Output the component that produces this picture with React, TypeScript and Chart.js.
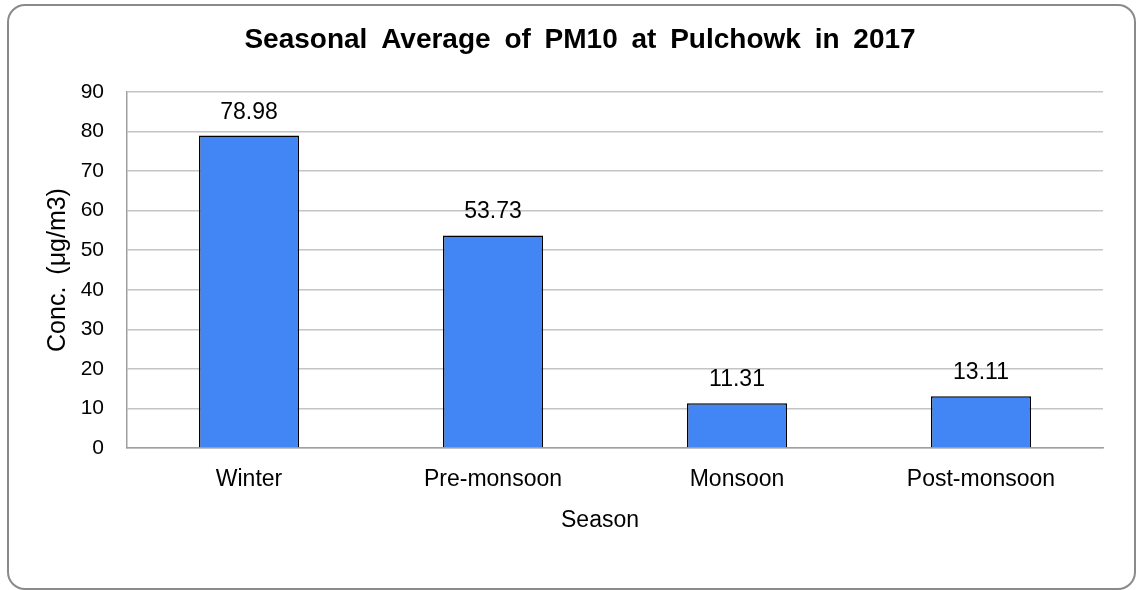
import React, { useEffect, useRef } from "react";
import { Chart, registerables } from "chart.js";

Chart.register(...registerables);

const categories: string[] = ["Winter", "Pre-monsoon", "Monsoon", "Post-monsoon"];
const pm10Values: number[] = [78.98, 53.73, 11.31, 13.11];
const yTicks: number[] = [0, 10, 20, 30, 40, 50, 60, 70, 80, 90];
const chartTitle = "Seasonal Average of PM10 at Pulchowk in 2017";
const xAxisTitle = "Season";
const yAxisTitle = "Conc. (μg/m3)";

const FONT = "'Liberation Sans', Arial, sans-serif";

export default function App() {
  const canvasRef = useRef<HTMLCanvasElement | null>(null);

  useEffect(() => {
    document.body.style.margin = "0";
    const canvas = canvasRef.current;
    if (!canvas) return;

    const wordSpacingPlugin = {
      id: "wordSpacing",
      beforeDraw(chart: any) {
        (chart.ctx as any).wordSpacing = "5px";
      },
      afterDraw(chart: any) {
        (chart.ctx as any).wordSpacing = "0px";
      },
    };

    const textPlugin = {
      id: "texts",
      afterDatasetsDraw(chart: any) {
        const ctx = chart.ctx;
        const meta = chart.getDatasetMeta(0);
        ctx.save();
        ctx.fillStyle = "#000000";
        ctx.textAlign = "center";
        ctx.textBaseline = "alphabetic";
        // data labels
        ctx.font = `23px ${FONT}`;
        meta.data.forEach((bar: any, i: number) => {
          const v = chart.data.datasets[0].data[i] as number;
          ctx.fillText(v.toFixed(2), bar.x, bar.y - 17);
        });
        // chart title
        (ctx as any).wordSpacing = "6px";
        ctx.font = `bold 28px ${FONT}`;
        ctx.fillText(chartTitle, 580, 48);
        // x axis title
        (ctx as any).wordSpacing = "0px";
        ctx.font = `23px ${FONT}`;
        ctx.fillText(xAxisTitle, 600, 527);
        ctx.restore();
      },
    };

    const chart = new Chart(canvas, {
      type: "bar",
      data: {
        labels: categories,
        datasets: [
          {
            label: "PM10",
            data: pm10Values,
            backgroundColor: "#4285f4",
            borderColor: "#000000",
            borderWidth: 1.5,
            categoryPercentage: 1,
            barPercentage: 0.41,
          },
        ],
      },
      options: {
        responsive: false,
        animation: false,
        devicePixelRatio: 1,
        layout: { padding: { left: 0, right: 34, top: 92, bottom: 42 } },
        plugins: {
          legend: { display: false },
          tooltip: { enabled: false },
          title: { display: false },
        },
        scales: {
          x: {
            grid: { display: false, drawTicks: false },
            border: { display: true, color: "#a0a0a0", width: 1.5 },
            ticks: {
              color: "#000000",
              font: { family: FONT, size: 23 },
              padding: 18,
              maxRotation: 0,
            },
            title: { display: false },
            afterFit(scale: any) {
              scale.height = 100;
            },
          },
          y: {
            min: 0,
            max: 90,
            afterBuildTicks(scale: any) {
              scale.ticks = yTicks.map((v) => ({ value: v }));
            },
            grid: { color: "#c4c4c4", lineWidth: 1.5, drawTicks: false },
            border: { display: true, color: "#a0a0a0", width: 1.5 },
            ticks: {
              color: "#000000",
              font: { family: FONT, size: 21 },
              padding: 23,
            },
            title: {
              display: true,
              text: yAxisTitle,
              color: "#000000",
              font: { family: FONT, size: 25, lineHeight: 1.2 },
              padding: { top: 43, bottom: 0 },
            },
            afterFit(scale: any) {
              scale.width = 127;
            },
          },
        },
      },
      plugins: [wordSpacingPlugin, textPlugin],
    });

    return () => {
      chart.destroy();
    };
  }, []);

  return (
    <div style={{ position: "fixed", left: 0, top: 0, width: 1137, height: 590, background: "#ffffff", overflow: "hidden" }}>
      <div
        style={{
          position: "absolute",
          left: 7,
          top: 4,
          width: 1129,
          height: 586,
          border: "2px solid #8a8a8a",
          borderRadius: 18,
          boxSizing: "border-box",
        }}
      />
      <canvas ref={canvasRef} width={1137} height={590} style={{ position: "absolute", left: 0, top: 0, width: 1137, height: 590 }} />
    </div>
  );
}
